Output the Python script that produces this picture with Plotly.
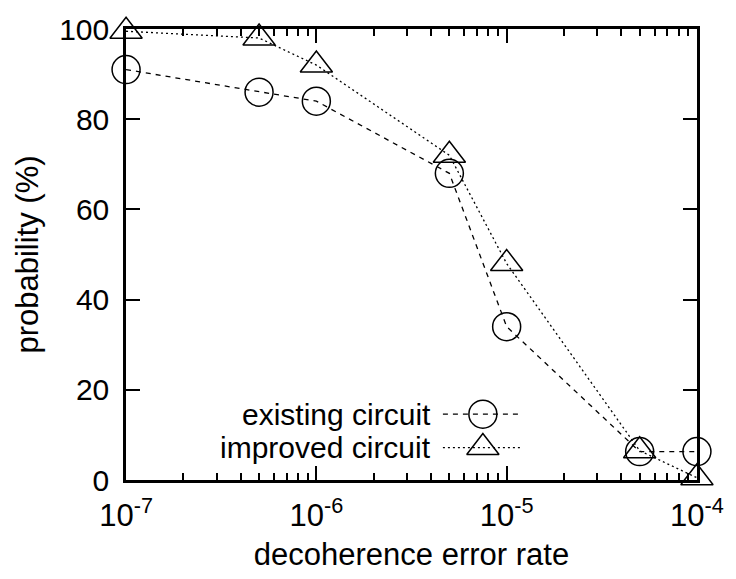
import plotly.graph_objects as go

# data
error_rate = [1e-7, 5e-7, 1e-6, 5e-6, 1e-5, 5e-5, 1e-4]
existing = [91, 86, 84, 68, 34, 6.3, 6.3]
improved = [99.5, 98, 92, 72, 48, 6.5, 0.5]
series_names = ["existing circuit", "improved circuit"]
x_tickvals = [1e-7, 1e-6, 1e-5, 1e-4]
x_ticktext = ["10<sup>-7</sup>", "10<sup>-6</sup>", "10<sup>-5</sup>", "10<sup>-4</sup>"]
y_tickvals = [0, 20, 40, 60, 80, 100]

FONT = "Liberation Sans"
BLACK = "black"

fig = go.Figure()

fig.add_trace(go.Scatter(
    x=error_rate, y=existing, mode="lines+markers", name=series_names[0],
    line=dict(color=BLACK, width=1.3, dash="5px,5px"),
    marker=dict(symbol="circle-open", size=28, color=BLACK, line=dict(width=1.5, color=BLACK)),
    showlegend=False, cliponaxis=False))
fig.add_trace(go.Scatter(
    x=error_rate, y=improved, mode="lines+markers", name=series_names[1],
    line=dict(color=BLACK, width=1.3, dash="2px,3px"),
    marker=dict(symbol="triangle-up-open", size=28, color=BLACK, line=dict(width=1.5, color=BLACK)),
    showlegend=False, cliponaxis=False))

# custom gnuplot-style legend (text left, sample right) on hidden overlay axes
leg_rows = [0.146, 0.072]
leg_x0, leg_x1, leg_xm, leg_tx = 0.555, 0.69, 0.625, 0.538
styles = [("5px,5px", "circle-open", 28), ("2px,3px", "triangle-up-open", 28)]
for i, name in enumerate(series_names):
    dash, sym, sz = styles[i]
    fig.add_trace(go.Scatter(
        x=[leg_x0, leg_x1], y=[leg_rows[i]] * 2, mode="lines", xaxis="x2", yaxis="y2",
        line=dict(color=BLACK, width=1.3, dash=dash), showlegend=False, hoverinfo="skip"))
    fig.add_trace(go.Scatter(
        x=[leg_xm], y=[leg_rows[i]], mode="markers", xaxis="x2", yaxis="y2",
        marker=dict(symbol=sym, size=sz, color=BLACK, line=dict(width=1.5, color=BLACK)),
        showlegend=False, hoverinfo="skip", cliponaxis=False))
    fig.add_annotation(x=leg_tx, y=leg_rows[i], xref="paper", yref="paper", text=name,
                       showarrow=False, xanchor="right", yanchor="middle",
                       font=dict(family=FONT, size=30, color=BLACK))

minor_vals = [m * 10 ** e for e in (-7, -6, -5) for m in range(2, 10)]

fig.update_layout(
    width=736, height=579,
    margin=dict(l=126, r=27, t=25, b=97),
    paper_bgcolor="white", plot_bgcolor="white",
    font=dict(family=FONT, size=30, color=BLACK),
    xaxis=dict(
        type="log", range=[-7.0003, -3.9997], tickvals=x_tickvals, ticktext=x_ticktext,
        ticks="inside", ticklen=14, tickwidth=2, tickcolor=BLACK,
        showline=True, linewidth=2.5, linecolor=BLACK, mirror="allticks",
        showgrid=False, zeroline=False,
        minor=dict(tickvals=minor_vals, ticks="inside", ticklen=7, tickwidth=2, tickcolor=BLACK, showgrid=False),
        tickfont=dict(family=FONT, size=31), ticklabelstandoff=6,
        title=dict(text="decoherence error rate", font=dict(family=FONT, size=31), standoff=12),
    ),
    yaxis=dict(
        range=[0, 100], tickvals=y_tickvals,
        ticks="inside", ticklen=14, tickwidth=2, tickcolor=BLACK,
        showline=True, linewidth=2.5, linecolor=BLACK, mirror="allticks",
        showgrid=False, zeroline=False,
        tickfont=dict(family=FONT, size=30), ticklabelstandoff=8,
        title=dict(text="probability (%)", font=dict(family=FONT, size=31), standoff=12),
    ),
    xaxis2=dict(overlaying="x", range=[0, 1], visible=False),
    yaxis2=dict(overlaying="y", range=[0, 1], visible=False),
    showlegend=False,
)

fig.write_html("out.html")
